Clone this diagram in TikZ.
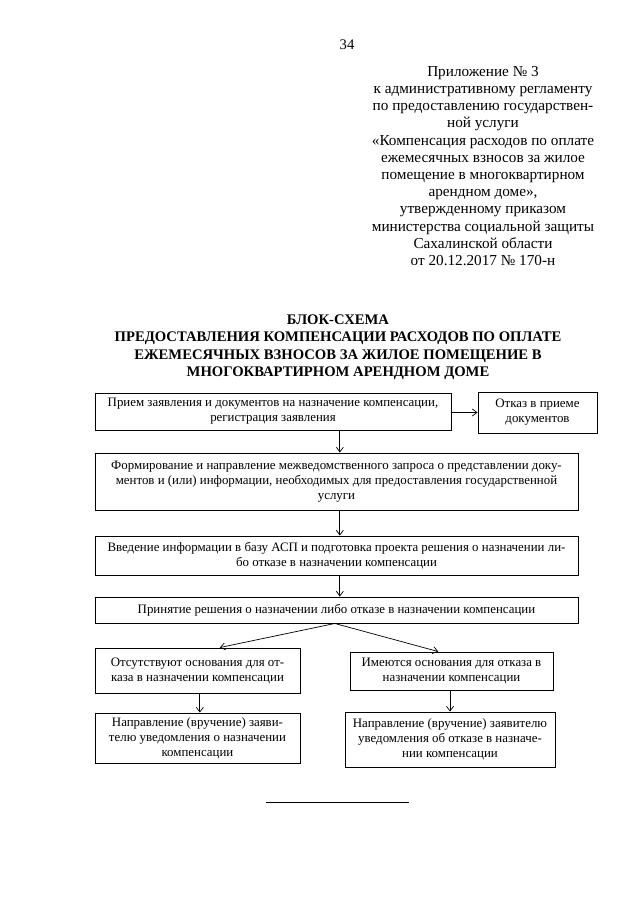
\documentclass[tikz,border=0pt]{standalone}
\usepackage{fontspec}
\setmainfont{Liberation Serif}
\usetikzlibrary{arrows.meta,calc,positioning}

\begin{document}
\begin{tikzpicture}[x=0.03cm, y=-0.03cm,
    blok/.style={draw, line width=0.8pt, align=center, inner sep=2pt, font=\fontsize{11}{12.8}\selectfont},
    strelka/.style={-{Straight Barb[length=4pt,width=6pt]}, line width=0.6pt}]
  \useasboundingbox (0,0) rectangle (640,905);

  % Page number and header
  \node (nomer) at (347,45) {\fontsize{12.5}{14}\selectfont 34};
  \node[align=center, font=\fontsize{13}{14.7}\selectfont] (prilozh) at (483,166)
    {Приложение № 3\\
     к административному регламенту\\
     по предоставлению государствен-\\
     ной услуги\\
     «Компенсация расходов по оплате\\
     ежемесячных взносов за жилое\\
     помещение в многоквартирном\\
     арендном доме»,\\
     утвержденному приказом\\
     министерства социальной защиты\\
     Сахалинской области\\
     от 20.12.2017 № 170-н};

  % Title
  \node[align=center, font=\bfseries\fontsize{12.5}{14.9}\selectfont] (zagolovok) at (338,347)
    {БЛОК-СХЕМА\\
     ПРЕДОСТАВЛЕНИЯ КОМПЕНСАЦИИ РАСХОДОВ ПО ОПЛАТЕ\\
     ЕЖЕМЕСЯЧНЫХ ВЗНОСОВ ЗА ЖИЛОЕ ПОМЕЩЕНИЕ В\\
     МНОГОКВАРТИРНОМ АРЕНДНОМ ДОМЕ};

  % Draw first row: reception and refusal
  \node[blok, minimum width=10.68cm, minimum height=1.11cm] (priem) at (273,411.5)
    {Прием заявления и документов на назначение компенсации,\\ регистрация заявления};
  \node[blok, minimum width=3.57cm, minimum height=1.23cm] (otkaz) at (537.5,412.5)
    {Отказ в приеме\\ документов};

  % Draw the wide boxes
  \node[blok, minimum width=14.49cm, minimum height=1.71cm] (zapros) at (336.5,481.5)
    {Формирование и направление межведомственного запроса о представлении доку-\\
     ментов и (или) информации, необходимых для предоставления государственной\\ услуги};
  \node[blok, minimum width=14.49cm, minimum height=1.17cm] (vvod) at (336.5,555.5)
    {Введение информации в базу АСП и подготовка проекта решения о назначении ли-\\
     бо отказе в назначении компенсации};
  \node[blok, minimum width=14.49cm, minimum height=0.78cm] (reshenie) at (336.5,610)
    {Принятие решения о назначении либо отказе в назначении компенсации};

  % Draw the two branches
  \node[blok, minimum width=6.15cm, minimum height=1.35cm] (net) at (197.5,670.5)
    {Отсутствуют основания для от-\\ каза в назначении компенсации};
  \node[blok, minimum width=6.09cm, minimum height=1.14cm] (est) at (451.5,671)
    {Имеются основания для отказа в\\ назначении компенсации};
  \node[blok, minimum width=6.15cm, minimum height=1.5cm] (uvnazn) at (197.5,738)
    {Направление (вручение) заяви-\\ телю уведомления о назначении\\ компенсации};
  \node[blok, minimum width=6.3cm, minimum height=1.65cm] (uvotkaz) at (450,739.5)
    {Направление (вручение) заявителю\\ уведомления об отказе в назначе-\\ нии компенсации};

  % Draw arrows
  \draw[strelka] (priem.east |- otkaz.west) -- (otkaz.west);
  \draw[strelka] ([xshift=0.1cm]zapros.north |- priem.south) -- ([xshift=0.1cm]zapros.north);
  \draw[strelka] ([xshift=0.1cm]zapros.south) -- ([xshift=0.1cm]zapros.south |- vvod.north);
  \draw[strelka] ([xshift=0.1cm]vvod.south) -- ([xshift=0.1cm]vvod.south |- reshenie.north);
  \draw[strelka] ([xshift=-0.05cm]reshenie.south) -- ([xshift=0.67cm]net.north);
  \draw[strelka] ([xshift=-0.05cm]reshenie.south) -- ([xshift=-0.4cm]est.north);
  \draw[strelka] ([xshift=0.07cm]net.south) -- ([xshift=0.07cm]net.south |- uvnazn.north);
  \draw[strelka] (uvotkaz.north |- est.south) -- (uvotkaz.north);

  % Rule at the bottom
  \draw[line width=0.8pt] (266,802) -- (409,802);
\end{tikzpicture}
\end{document}
